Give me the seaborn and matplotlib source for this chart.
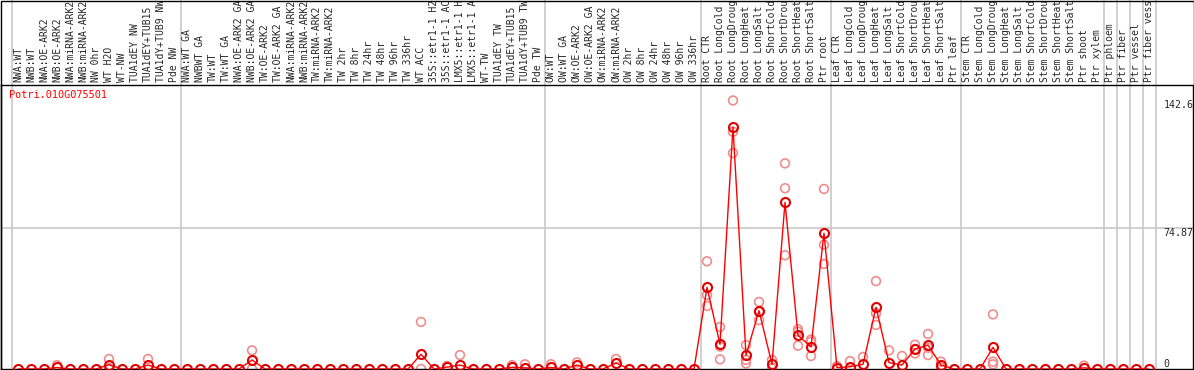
import numpy as np
import pandas as pd
import matplotlib
matplotlib.use("Agg")
import matplotlib.pyplot as plt
from matplotlib.patches import Rectangle
import seaborn as sns

# sample labels (truncated to 14 chars as in the source chart)
labels = [
    "NWA:WT", "NWB:WT", "NWA:OE-ARK2", "NWB:OE-ARK2", "NWA:miRNA-ARK2", "NWB:miRNA-ARK2",
    "NW 0hr", "WT H2O", "WT-NW", "TUA1dEY NW", "TUA1dEY+TUB15", "TUA1dY+TUB9 NW", "Pde NW",
    "NWA:WT GA", "NWBWT GA", "TW:WT", "TW:WT GA", "NWA:OE-ARK2 GA", "NWB:OE-ARK2 GA",
    "TW:OE-ARK2", "TW:OE-ARK2 GA", "NWA:miRNA-ARK2", "NWB:miRNA-ARK2", "TW:miRNA-ARK2",
    "TW:miRNA-ARK2", "TW 2hr", "TW 8hr", "TW 24hr", "TW 48hr", "TW 96hr", "TW 336hr",
    "WT ACC", "35S::etr1-1 H2", "35S::etr1-1 AC", "LMX5::etr1-1 H", "LMX5::etr1-1 A",
    "WT-TW", "TUA1dEY TW", "TUA1dEY+TUB15", "TUA1dY+TUB9 TW", "Pde TW",
    "OW:WT", "OW:WT GA", "OW:OE-ARK2", "OW:OE-ARK2 GA", "OW:miRNA-ARK2", "OW:miRNA-ARK2",
    "OW 2hr", "OW 8hr", "OW 24hr", "OW 48hr", "OW 96hr", "OW 336hr",
    "Root CTR", "Root LongCold", "Root LongDroug", "Root LongHeat", "Root LongSalt",
    "Root ShortCold", "Root ShortDrou", "Root ShortHeat", "Root ShortSalt", "Ptr root",
    "Leaf CTR", "Leaf LongCold", "Leaf LongDroug", "Leaf LongHeat", "Leaf LongSalt",
    "Leaf ShortCold", "Leaf ShortDrou", "Leaf ShortHeat", "Leaf ShortSalt", "Ptr leaf",
    "Stem CTR", "Stem LongCold", "Stem LongDroug", "Stem LongHeat", "Stem LongSalt",
    "Stem ShortCold", "Stem ShortDrou", "Stem ShortHeat", "Stem ShortSalt", "Ptr shoot",
    "Ptr xylem", "Ptr phloem", "Ptr fiber", "Ptr vessel", "Ptr fiber vess",
]

# group sizes (vertical separators between groups)
group_sizes = [13, 28, 12, 10, 10, 11, 1, 1, 1, 1]

# mean expression per sample
means = [
    0, 0, 0, 0.8, 0, 0, 0, 2.3, 0, 0, 2.1, 0, 0,
    0, 0, 0, 0, 0, 4.8, 0, 0, 0, 0, 0, 0, 0, 0, 0, 0, 0, 0,
    7.8, 0, 1.0, 2.1, 0, 0, 0, 0.9, 0.6, 0,
    0.8, 0, 2.1, 0, 0, 3.2, 0, 0, 0, 0, 0, 0,
    43.4, 13.1, 128.5, 7.3, 31.0, 2.5, 88.5, 17.9, 11.7, 72.1,
    0.7, 1.2, 2.5, 32.8, 3.4, 2.1, 10.6, 12.7, 2.1, 0,
    0, 0, 11.5, 0, 0, 0, 0, 0, 0, 0.6,
    0, 0, 0, 0, 0,
]

# individual replicates (sample index, value)
rep_index = [
    3, 7, 7, 10, 18, 18, 31, 31, 33, 34, 38, 39, 41, 43, 46,
    53, 53, 53, 54, 54, 54, 55, 55, 55, 56, 56, 56, 57, 57, 57,
    58, 58, 59, 59, 59, 60, 60, 60, 61, 61, 61, 62, 62, 62,
    63, 64, 65, 66, 66, 66, 67, 68, 69, 69, 69, 70, 70, 70, 71, 71,
    75, 75, 75, 82,
]
rep_value = [
    2.0, 5.3, 0, 5.3, 9.9, 0, 25.0, 0, 1.6, 7.4, 2.0, 2.5, 2.5, 3.5, 5.3,
    57.2, 39.3, 33.5, 22.3, 11.9, 5.1, 142.6, 126.0, 114.7, 12.7, 4.8, 3.0, 35.6, 30.4, 26.0,
    4.8, 0.3, 109.2, 96.0, 60.4, 21.1, 19.8, 12.4, 15.6, 14.5, 6.9, 95.6, 66.0, 55.8,
    1.5, 4.2, 6.4, 46.7, 29.6, 23.4, 9.9, 6.9, 12.9, 10.6, 8.3, 18.6, 11.3, 7.4, 3.9, 1.0,
    29.0, 3.9, 2.5, 1.8,
]

gene = "Potri.010G075501"
y_marks = [142.6, 74.87, 0]

df = pd.DataFrame({"pos": np.arange(len(labels)), "mean": means})
reps = pd.DataFrame({"pos": rep_index, "value": rep_value})

sns.set_style("white")
plt.rcParams["font.family"] = ["DejaVu Sans Mono"]

W, H = 1194, 370
fig = plt.figure(figsize=(W / 100, H / 100), dpi=100)
ax = fig.add_axes([1 / W, 1 / H, 1192 / W, 284 / H])

# separators between groups, running up through the label area
bounds = np.cumsum([0] + group_sizes) - 0.5
for b in bounds:
    ax.axvline(b, ymin=0, ymax=1 + 86 / 284, color="#c8c8c8", lw=1.2,
               clip_on=False, zorder=0)
ax.axhline(y_marks[1], color="#c8c8c8", lw=1.2, zorder=0)

sns.scatterplot(data=reps, x="pos", y="value", ax=ax, marker="o", s=40,
                facecolor="none", edgecolor="#f08c8c", linewidth=1.2, zorder=2)
sns.lineplot(data=df, x="pos", y="mean", ax=ax, color="red", lw=1,
             marker="o", markersize=6.5, markerfacecolor="none",
             markeredgecolor="#e00000", markeredgewidth=1.5, zorder=3)

ax.set_xlim((1 - 18) / 13, (1193 - 18) / 13)
ax.set_ylim(0, 284 / 1.883)

ax.set_xticks(df["pos"])
ax.set_xticklabels(labels, rotation=90, fontsize=7)
ax.tick_params(axis="x", top=True, labeltop=True, bottom=False, labelbottom=False,
               length=0, pad=2)
ax.set_yticks([])
ax.set_xlabel("")
ax.set_ylabel("")

for v in y_marks:
    ax.text(88.1, v, "0" if v == 0 else f"{v:g}", fontsize=7.2,
            va="bottom" if v == 0 else "top", ha="left")

ax.text(8 / 1192, 1 - 5 / 284, gene, transform=ax.transAxes, color="red",
        fontsize=7.4, va="top", ha="left")

for s in ax.spines.values():
    s.set_color("black")
    s.set_linewidth(1)

fig.add_artist(Rectangle((0.5 / W, 0.5 / H), 1 - 1 / W, 1 - 1 / H, transform=fig.transFigure,
                         fill=False, edgecolor="black", lw=1))

fig.savefig("out.png", dpi=100)
